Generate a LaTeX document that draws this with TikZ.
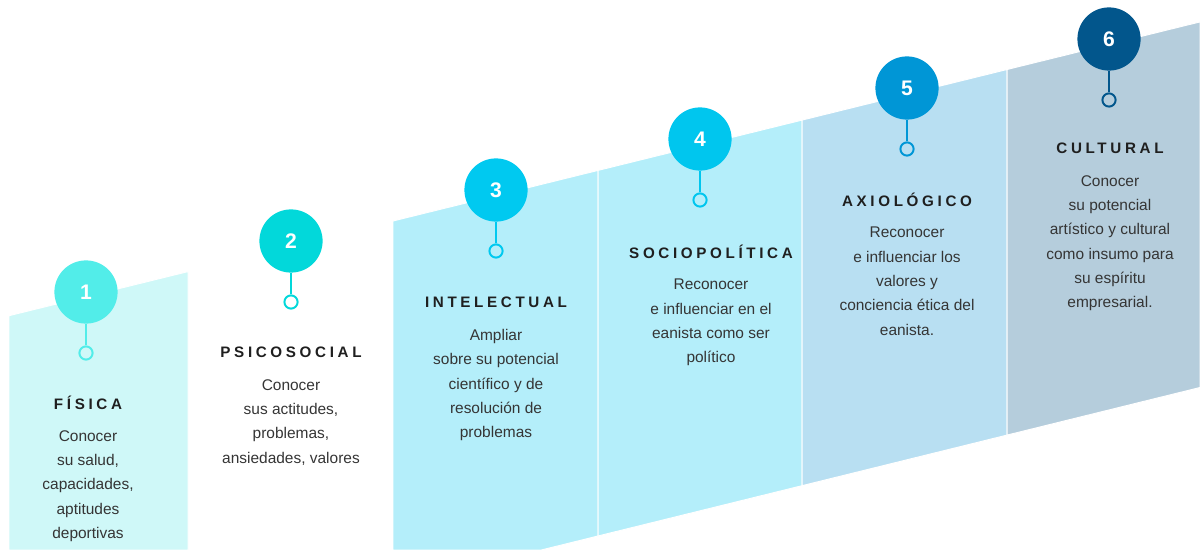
\documentclass[tikz,border=0pt]{standalone}
\usepackage{fontspec}
\setmainfont{Liberation Sans}
\newfontfamily\headfont[LetterSpace=24]{Liberation Sans}
\usepackage{tikz}
\usetikzlibrary{positioning,calc}
\definecolor{panelA}{HTML}{CFF8F8}
\definecolor{panelB}{HTML}{B4EEFA}
\definecolor{panelC}{HTML}{B8DFF2}
\definecolor{panelD}{HTML}{B5CDDC}
\definecolor{cA}{HTML}{52EDE9}
\definecolor{cB}{HTML}{02D8DA}
\definecolor{cC}{HTML}{00C9F0}
\definecolor{cD}{HTML}{00C6EE}
\definecolor{cE}{HTML}{0096D6}
\definecolor{cF}{HTML}{02568C}
\definecolor{headgray}{HTML}{1F1F1F}
\definecolor{bodygray}{HTML}{353535}

\begin{document}
\begin{tikzpicture}[x=0.025cm,y=-0.025cm,
	numbox/.style={circle, minimum size=1.58cm, inner sep=0, text=white, font=\fontsize{15}{15}\selectfont\bfseries},
	ringnode/.style={circle, minimum size=0.33cm, inner sep=0, line width=1.4pt},
	stem/.style={line width=1.4pt},
	headtxt/.style={font=\headfont\fontsize{10.8}{12}\selectfont\bfseries, text=headgray},
	bodytxt/.style={align=center, anchor=north, inner sep=0, font=\fontsize{11}{17.3}\selectfont, text=bodygray}]
				\useasboundingbox (0,0) rectangle (1200,550);
				% steps (panel 2 stays white)
				\fill[draw=white, line width=0.7pt, fill=panelA] (9,315.7) -- (188,271.6) -- (188,550) -- (9,550) -- cycle;
				\fill[draw=white, line width=0.7pt, fill=panelB] (393,221) -- (598,170.4) -- (598,536) -- (541.3,550) -- (393,550) -- cycle;
				\fill[draw=white, line width=0.7pt, fill=panelB] (598,170.4) -- (802,120.1) -- (802,485.7) -- (598,536) -- cycle;
				\fill[draw=white, line width=0.7pt, fill=panelC] (802,120.1) -- (1007,69.5) -- (1007,435.1) -- (802,485.7) -- cycle;
				\fill[draw=white, line width=0.7pt, fill=panelD] (1007,69.5) -- (1200,21.9) -- (1200,387.5) -- (1007,435.1) -- cycle;
				% pins
				\node[numbox, fill=cA] (c1) at (86,292) {1};\node[ringnode, draw=cA] (r1) at (86,353) {};\draw[stem, cA] (c1) -- (r1);
				\node[numbox, fill=cB] (c2) at (291,241) {2};\node[ringnode, draw=cB] (r2) at (291,302) {};\draw[stem, cB] (c2) -- (r2);
				\node[numbox, fill=cC] (c3) at (496,190) {3};\node[ringnode, draw=cC] (r3) at (496,251) {};\draw[stem, cC] (c3) -- (r3);
				\node[numbox, fill=cD] (c4) at (700,139) {4};\node[ringnode, draw=cD] (r4) at (700,200) {};\draw[stem, cD] (c4) -- (r4);
				\node[numbox, fill=cE] (c5) at (907,88) {5};\node[ringnode, draw=cE] (r5) at (907,149) {};\draw[stem, cE] (c5) -- (r5);
				\node[numbox, fill=cF] (c6) at (1109,39) {6};\node[ringnode, draw=cF] (r6) at (1109,100) {};\draw[stem, cF] (c6) -- (r6);
				% titles and texts
				\node[headtxt] (t1) at (88,403) {FÍSICA};\node[bodytxt] (b1) at (88,430) {Conocer\\su salud,\\capacidades,\\aptitudes\\deportivas};
				\node[headtxt] (t2) at (291,352) {PSICOSOCIAL};\node[bodytxt] (b2) at (291,379) {Conocer\\sus actitudes,\\problemas,\\ansiedades, valores};
				\node[headtxt] (t3) at (496,302) {INTELECTUAL};\node[bodytxt] (b3) at (496,329) {Ampliar\\sobre su potencial\\científico y de\\resolución de\\problemas};
				\node[headtxt] (t4) at (711,252) {SOCIOPOLÍTICA};\node[bodytxt] (b4) at (711,279) {Reconocer\\e influenciar en el\\eanista como ser\\político};
				\node[headtxt] (t5) at (907,200) {AXIOLÓGICO};\node[bodytxt] (b5) at (907,227) {Reconocer\\e influenciar los\\valores y\\conciencia ética del\\eanista.};
				\node[headtxt] (t6) at (1110,148) {CULTURAL};\node[bodytxt] (b6) at (1110,175) {Conocer\\su potencial\\artístico y cultural\\como insumo para\\su espíritu\\empresarial.};
			\end{tikzpicture}
\end{document}
